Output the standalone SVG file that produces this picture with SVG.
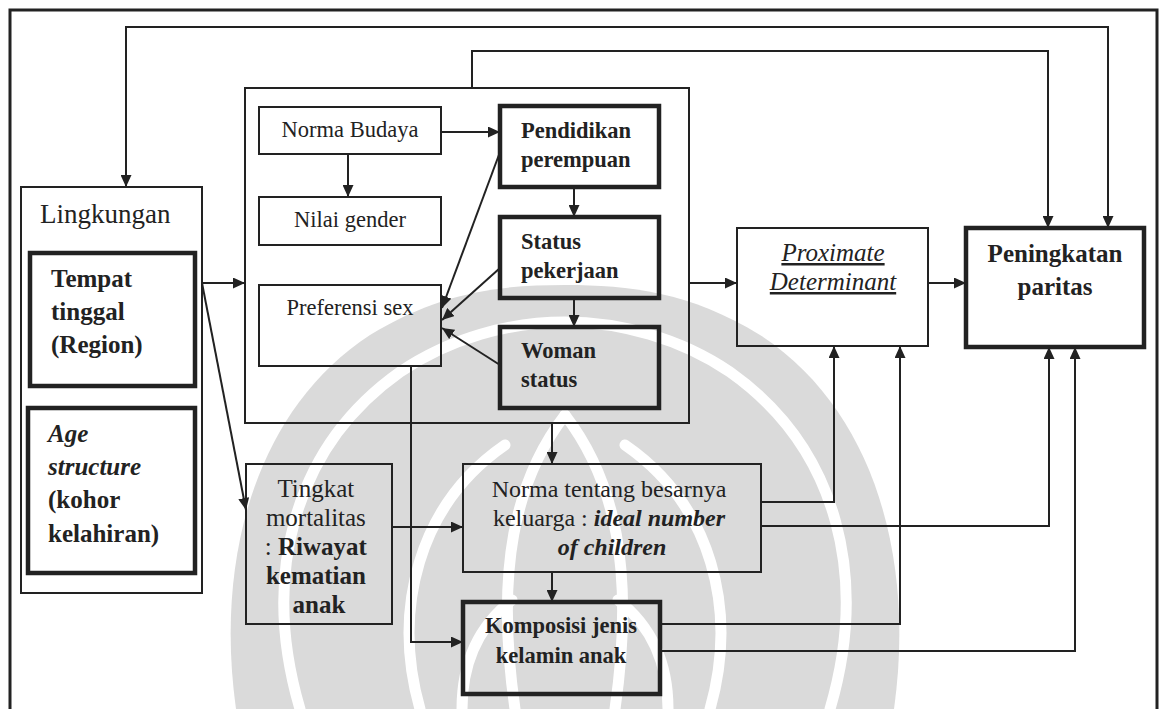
<svg xmlns="http://www.w3.org/2000/svg" width="1163" height="709" viewBox="0 0 1163 709">
  <defs>
    <marker id="arrow" markerUnits="userSpaceOnUse" markerWidth="13" markerHeight="11" refX="12" refY="5.5" orient="auto-start-reverse">
      <path d="M0,0 L12,5.5 L0,11 Z" fill="#222"/>
    </marker>
    <style>
      text { font-family: "Liberation Serif", "Times New Roman", serif; fill: #222; }
      .thin { fill: none; stroke: #222; stroke-width: 2; }
      .thick { fill: none; stroke: #222; stroke-width: 4.5; }
      .link { fill: none; stroke: #222; stroke-width: 2; marker-end: url(#arrow); }
      .mark { fill: #dadada; }
      .gap { fill: none; stroke: #fff; stroke-width: 11; stroke-linecap: round; }
      .c { text-anchor: middle; }
      .b { font-weight: bold; }
      .i { font-style: italic; }
    </style>
  </defs>

  <rect width="1163" height="709" fill="#fff"/>

  <!-- background emblem: grey mass cut by white curves -->
  <g id="watermark">
    <path class="mark" d="M236,709 C215,560 255,410 370,335 C440,292 500,285 565,285 C630,285 690,292 760,335 C875,410 915,560 894,709 Z"/>
    <path class="gap" d="M300,709 C262,580 290,450 400,372 C450,338 510,322 565,322 C620,322 680,338 730,372 C840,450 868,580 830,709"/>
    <path class="gap" d="M420,709 C392,610 418,505 505,445"/>
    <path class="gap" d="M710,709 C738,610 712,505 625,445"/>
    <path class="gap" d="M565,415 C515,480 495,570 515,709"/>
    <path class="gap" d="M565,415 C615,480 635,570 615,709"/>
    <path class="gap" d="M462,709 C462,660 480,625 512,600"/>
    <path class="gap" d="M668,709 C668,660 650,625 618,600"/>
  </g>

  <!-- outer frame -->
  <path d="M10,712 V10 H1157 V712" fill="none" stroke="#222" stroke-width="3"/>

  <g id="lingkungan">
    <rect class="thin" x="21" y="187" width="181" height="406"/>
    <text x="40" y="223" font-size="27">Lingkungan</text>
  </g>
  <g id="tempat-tinggal">
    <rect class="thick" x="30" y="253" width="165" height="133"/>
    <text class="b" font-size="25"><tspan x="51" y="287">Tempat</tspan><tspan x="51" y="320">tinggal</tspan><tspan x="51" y="353">(Region)</tspan></text>
  </g>
  <g id="age-structure">
    <rect class="thick" x="28" y="408" width="167" height="165"/>
    <text class="b" font-size="25"><tspan class="i" x="48" y="442">Age</tspan><tspan class="i" x="48" y="475">structure</tspan><tspan x="48" y="508">(kohor</tspan><tspan x="48" y="542">kelahiran)</tspan></text>
  </g>

  <g id="sosial-budaya">
    <rect class="thin" x="245" y="88" width="444" height="335"/>
  </g>
  <g id="norma-budaya">
    <rect class="thin" x="259" y="107" width="182" height="47"/>
    <text class="c" x="350" y="137" font-size="22.5">Norma Budaya</text>
  </g>
  <g id="nilai-gender">
    <rect class="thin" x="259" y="197" width="182" height="48"/>
    <text class="c" x="350" y="227" font-size="22.5">Nilai gender</text>
  </g>
  <g id="preferensi-sex">
    <rect class="thin" x="259" y="285" width="182" height="81"/>
    <text class="c" x="350" y="315" font-size="22.5">Preferensi sex</text>
  </g>
  <g id="pendidikan">
    <rect class="thick" x="500" y="106" width="159" height="81"/>
    <text class="b" font-size="22.5"><tspan x="521" y="138">Pendidikan</tspan><tspan x="521" y="167">perempuan</tspan></text>
  </g>
  <g id="status-pekerjaan">
    <rect class="thick" x="500" y="217" width="159" height="81"/>
    <text class="b" font-size="22.5"><tspan x="521" y="249">Status</tspan><tspan x="521" y="278">pekerjaan</tspan></text>
  </g>
  <g id="woman-status">
    <rect class="thick" x="500" y="327" width="159" height="81"/>
    <text class="b" font-size="22.5"><tspan x="521" y="358">Woman</tspan><tspan x="521" y="387">status</tspan></text>
  </g>

  <g id="proximate">
    <rect class="thin" x="737" y="228" width="191" height="118"/>
    <text class="c i" x="833" y="261" font-size="25" text-decoration="underline">Proximate</text>
    <text class="c i" x="833" y="290" font-size="25" text-decoration="underline">Determinant</text>
  </g>
  <g id="peningkatan-paritas">
    <rect class="thick" x="966" y="228" width="178" height="119" stroke-width="5"/>
    <text class="c b" font-size="25"><tspan x="1055" y="262">Peningkatan</tspan><tspan x="1055" y="295">paritas</tspan></text>
  </g>

  <g id="tingkat-mortalitas">
    <rect class="thin" x="246" y="464" width="146" height="160"/>
    <text class="c" font-size="25">
      <tspan x="319" y="497">Tingkat</tspan>
      <tspan x="319" y="526">mortalitas</tspan>
      <tspan x="319" y="555">: <tspan class="b">Riwayat</tspan></tspan>
      <tspan class="b" x="319" y="584">kematian</tspan>
      <tspan class="b" x="319" y="613">anak</tspan>
    </text>
  </g>
  <g id="norma-keluarga">
    <rect class="thin" x="463" y="464" width="298" height="108"/>
    <text class="c" font-size="24">
      <tspan x="612" y="497">Norma tentang besarnya</tspan>
      <tspan x="612" y="526">keluarga : <tspan class="b i">ideal number</tspan></tspan>
      <tspan class="b i" x="612" y="555">of children</tspan>
    </text>
  </g>
  <g id="komposisi">
    <rect class="thick" x="463" y="602" width="197" height="92"/>
    <text class="c b" font-size="22.5"><tspan x="561" y="633">Komposisi jenis</tspan><tspan x="561" y="663">kelamin anak</tspan></text>
  </g>

  <g id="connectors">
    <path class="link" d="M126,187 V27 H1108 V228" marker-start="url(#arrow)"/>
    <path class="link" d="M472,88 V51 H1048 V228"/>
    <path class="link" d="M202,283 H245"/>
    <path class="link" d="M202,283 L246,510"/>
    <path class="link" d="M441,132 H500"/>
    <path class="link" d="M348,154 V197"/>
    <path class="link" d="M574,187 V217"/>
    <path class="link" d="M574,298 V327"/>
    <path class="link" d="M500,152 L442,308"/>
    <path class="link" d="M500,268 L442,320"/>
    <path class="link" d="M500,365 L442,328"/>
    <path class="link" d="M689,283 H737"/>
    <path class="link" d="M928,283 H966"/>
    <path class="link" d="M552,423 V464"/>
    <path class="link" d="M392,527 H463"/>
    <path class="link" d="M552,572 V602"/>
    <path class="link" d="M411,366 V642 H463"/>
    <path class="link" d="M761,502 H834 V346"/>
    <path class="link" d="M761,526 H1049 V347"/>
    <path class="link" d="M660,624 H900 V346"/>
    <path class="link" d="M660,651 H1075 V347"/>
  </g>
</svg>
